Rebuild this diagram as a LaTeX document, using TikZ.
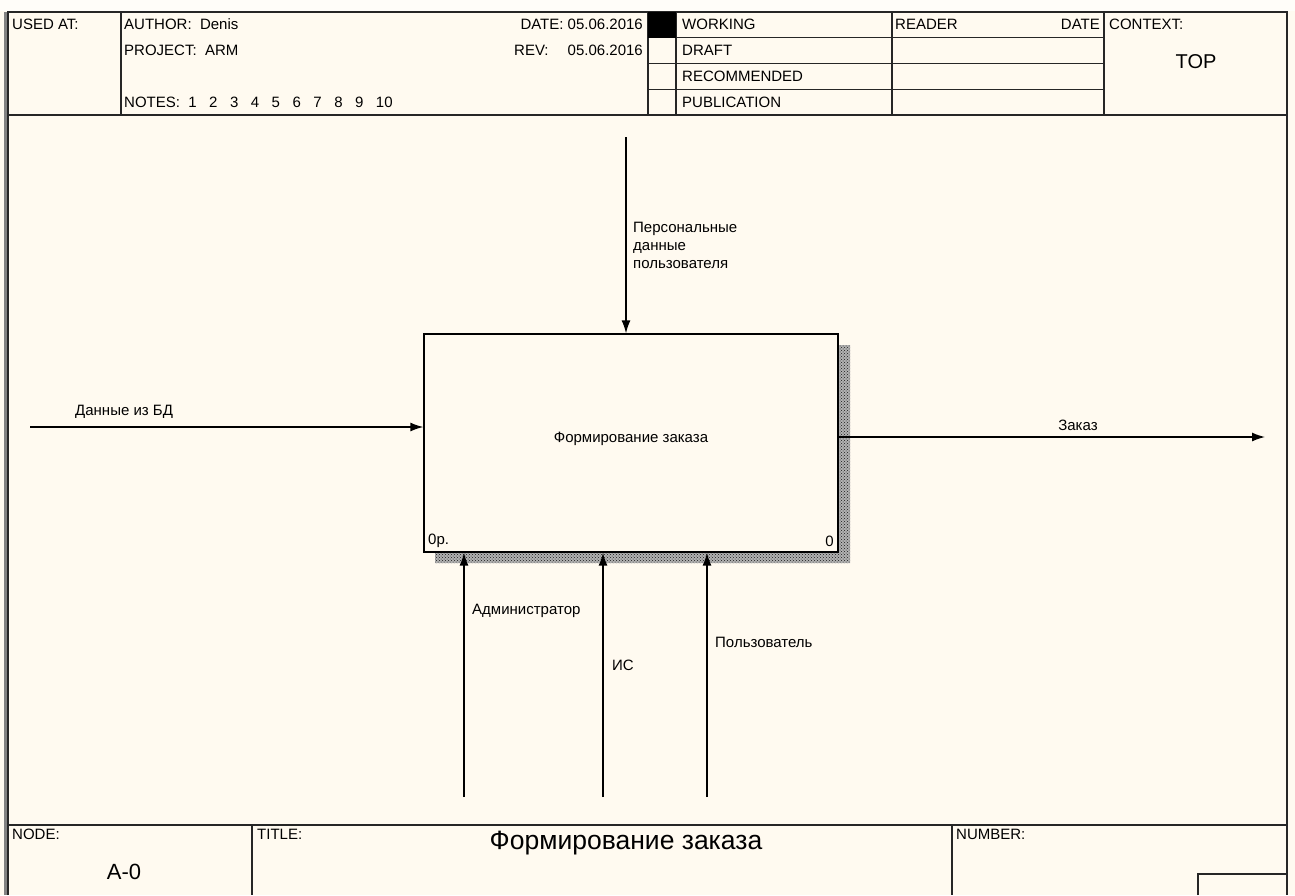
\documentclass[tikz,border=0pt]{standalone}
\usepackage{fontspec}
\setmainfont{Liberation Sans}
\usetikzlibrary{arrows.meta,patterns}
\definecolor{paper}{RGB}{255,250,240}
\definecolor{rim}{RGB}{130,130,130}
\begin{document}
\begin{tikzpicture}[x=1pt, y=-1pt, >={Latex[length=13pt,width=9pt]},
  txt/.style={inner sep=0pt, font=\fontsize{15}{18}\selectfont},
  frm/.style={line width=1.3pt, draw=black!85},
  flow/.style={->, line width=1.4pt}]
\useasboundingbox (0,0) rectangle (1295,895);
\fill[paper] (0,0) rectangle (1295,895);
\fill[white!60!paper] (0,0) rectangle (1295,11);
\fill[rim] (4,12) rectangle (7,895);
% frame
\draw[frm] (8,895) -- (8,12) -- (1287,12) -- (1287,895);
\draw[frm] (8,115) -- (1287,115);
\draw[frm] (8,825) -- (1287,825);
\draw[frm] (121,12) -- (121,115);
\draw[frm] (648,12) -- (648,115);
\draw[frm] (676,12) -- (676,115);
\draw[frm] (892,12) -- (892,115);
\draw[frm] (1104,12) -- (1104,115);
\foreach \y in {37.75,63.5,89.25}
  \draw[frm] (648,\y) -- (1104,\y);
\fill[black] (648,12) rectangle (676,37.75);
\draw[frm] (252,825) -- (252,895);
\draw[frm] (952,825) -- (952,895);
\draw[frm] (1198,895) -- (1198,874) -- (1287,874);
% header texts
\node[txt, anchor=west] (usedat) at (12,24) {USED AT:};
\node[txt, anchor=west] (author) at (124,24) {AUTHOR:\ \ Denis};
\node[txt, anchor=west] (project) at (124,50) {PROJECT:\ \ ARM};
\node[txt, anchor=west] (notes) at (124,102) {NOTES:\ \ 1\ \ \ 2\ \ \ 3\ \ \ 4\ \ \ 5\ \ \ 6\ \ \ 7\ \ \ 8\ \ \ 9\ \ \ 10};
\node[txt, anchor=east] (date) at (643,24) {DATE: 05.06.2016};
\node[txt, anchor=west] (rev) at (514,50) {REV:};
\node[txt, anchor=east] (revdate) at (643,50) {05.06.2016};
\node[txt, anchor=west] (working) at (682,24) {WORKING};
\node[txt, anchor=west] (draft) at (682,50) {DRAFT};
\node[txt, anchor=west] (recommended) at (682,76) {RECOMMENDED};
\node[txt, anchor=west] (publication) at (682,102) {PUBLICATION};
\node[txt, anchor=west] (reader) at (895,24) {READER};
\node[txt, anchor=east] (rdate) at (1100,24) {DATE};
\node[txt, anchor=west] (context) at (1109,24) {CONTEXT:};
\node[inner sep=0pt, font=\fontsize{20}{24}\selectfont] (top) at (1196,62) {TOP};
% footer texts
\node[txt, anchor=west] (nodelbl) at (12,834) {NODE:};
\node[txt, anchor=west] (titlelbl) at (257,834) {TITLE:};
\node[txt, anchor=west] (numberlbl) at (956,834) {NUMBER:};
\node[inner sep=0pt, font=\fontsize{22}{26}\selectfont] (nodeno) at (124,872) {A-0};
\node[inner sep=0pt, font=\fontsize{26.5}{30}\selectfont] (title) at (626,843) {Формирование заказа};
% activity
\fill[black!30] (838,345) -- (850,345) -- (850,563) -- (435,563) -- (435,552) -- (838,552) -- cycle;
\fill[pattern=crosshatch dots, pattern color=black!90] (838,345) -- (850,345) -- (850,563) -- (435,563) -- (435,552) -- (838,552) -- cycle;
\node[draw, line width=1.3pt, fill=paper, minimum width=414pt, minimum height=218pt, inner sep=0pt, txt] (box) at (631,443) {\raisebox{12pt}{Формирование заказа}};
\node[txt, anchor=west] (cost) at (428,541) {0р.};
\node[txt, anchor=east] (boxno) at (834,541) {0};
% arrows
\coordinate (inA) at (30,427);
\coordinate (outB) at (1265,437);
\coordinate (ctlA) at (626,137);
\coordinate (mechA) at (464,797);
\coordinate (mechB) at (603,797);
\coordinate (mechC) at (707,797);
\draw[flow] (inA) -- (inA -| box.west);
\draw[flow] (outB -| box.east) -- (outB);
\draw[flow] (ctlA) -- (ctlA |- box.north);
\draw[flow] (mechA) -- (mechA |- box.south);
\draw[flow] (mechB) -- (mechB |- box.south);
\draw[flow] (mechC) -- (mechC |- box.south);
\node[txt, anchor=west] (inlbl) at (75,412) {Данные из БД};
\node[txt] (outlbl) at (1078,425) {Заказ};
\node[txt, anchor=west, align=left] (ctllbl) at (633,245) {Персональные\\данные\\пользователя};
\node[txt, anchor=west] (mechlblA) at (472,611) {Администратор};
\node[txt, anchor=west] (mechlblB) at (612,665) {ИС};
\node[txt, anchor=west] (mechlblC) at (715,642) {Пользователь};
\end{tikzpicture}
\end{document}
